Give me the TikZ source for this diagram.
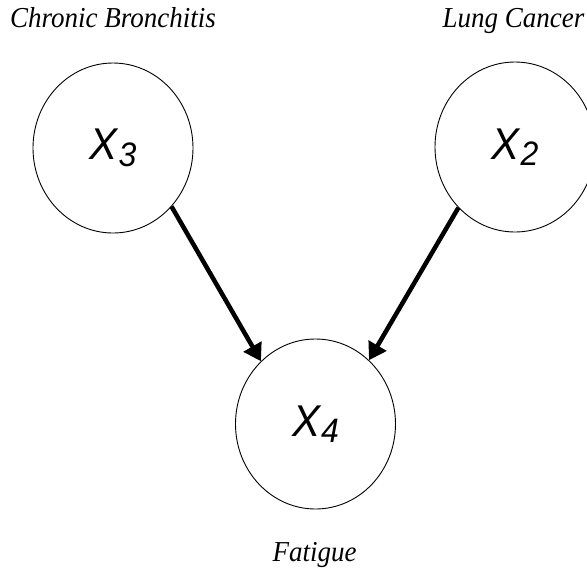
\documentclass[tikz,border=0pt]{standalone}
\usepackage{fontspec}
\usepackage{graphicx}
\setmainfont{Liberation Serif}
\newfontfamily\varfont{Liberation Sans}
\usetikzlibrary{shapes.geometric,arrows.meta}

% variable label: italic X with a lowered index
\newcommand{\varlab}[1]{\scalebox{1}[1.06]{\varfont\itshape\fontsize{42}{42}\selectfont X\kern1pt\raisebox{-6pt}{\fontsize{32}{32}\selectfont #1}}}
% slightly tall italic caption text
\newcommand{\captext}[1]{\scalebox{1}[1.07]{#1}}

\begin{document}
\begin{tikzpicture}[x=1pt,y=-1pt,
  varnode/.style={draw=black, line width=0.9pt, ellipse, minimum width=160pt,
                  minimum height=170pt, inner sep=0pt},
  caption/.style={font=\itshape\fontsize{27}{27}\selectfont, anchor=base, inner sep=0pt},
  edge/.style={line width=4.5pt, -{Triangle[length=17pt,width=20pt]}}
]
\useasboundingbox (0,0) rectangle (587,571);

\node[varnode] (x3) at (113,148) {\varlab{3}};
\node[varnode] (x2) at (515,147) {\varlab{2}};
\node[varnode] (x4) at (315.5,424) {\varlab{4}};

\node[caption] (c3) at (113,27) {\captext{Chronic Bronchitis}};
\node[caption] (c2) at (513.5,27) {\captext{Lung Cancer}};
\node[caption] (c4) at (314.7,561) {\captext{Fatigue}};

\draw[edge] (x3.-45.5) -- (x4.131);
\draw[edge] (x2.227) -- (x4.50);
\end{tikzpicture}
\end{document}
